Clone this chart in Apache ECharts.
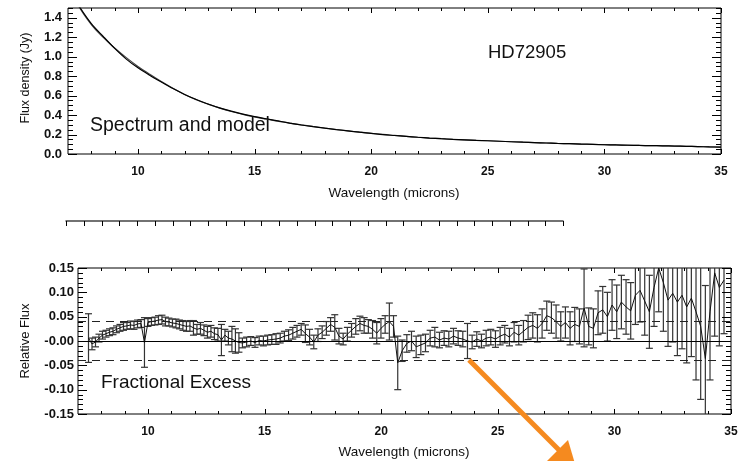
<!DOCTYPE html>
<html>
<head>
<meta charset="utf-8">
<script src="https://cdn.jsdelivr.net/npm/echarts@6/dist/echarts.min.js"></script>
<style>html,body{margin:0;padding:0;background:#fff}#c{width:746px;height:461px}</style>
</head>
<body>
<div id="c"></div>
<script>
// ---------- Top panel: spectrum and photospheric model (Jy) ----------
const wlTop = [7.3, 7.5, 8.0, 8.5, 9.0, 9.5, 10.0, 10.5, 11.0, 11.5, 12.0, 12.5, 13.0, 13.5, 14.0, 14.5, 15.0, 15.5, 16.0, 16.5, 17.0, 17.5, 18.0, 18.5, 19.0, 19.5, 20.0, 20.5, 21.0, 21.5, 22.0, 22.5, 23.0, 23.5, 24.0, 24.5, 25.0, 25.5, 26.0, 26.5, 27.0, 27.5, 28.0, 28.5, 29.0, 29.5, 30.0, 30.5, 31.0, 31.5, 32.0, 32.5, 33.0, 33.5, 34.0, 34.5, 35.0];
const modelFlux = [1.58, 1.50, 1.33, 1.20, 1.09, 0.99, 0.90, 0.82, 0.745, 0.675, 0.612, 0.558, 0.512, 0.472, 0.437, 0.407, 0.381, 0.358, 0.338, 0.318, 0.300, 0.283, 0.267, 0.252, 0.238, 0.225, 0.213, 0.201, 0.191, 0.181, 0.172, 0.164, 0.157, 0.151, 0.146, 0.141, 0.136, 0.131, 0.126, 0.122, 0.117, 0.113, 0.109, 0.106, 0.102, 0.099, 0.096, 0.093, 0.091, 0.088, 0.086, 0.084, 0.082, 0.079, 0.076, 0.073, 0.070];
const specFlux = [1.60, 1.51, 1.34, 1.21, 1.085, 0.975, 0.885, 0.81, 0.74, 0.672, 0.612, 0.56, 0.514, 0.474, 0.44, 0.41, 0.384, 0.362, 0.34, 0.318, 0.298, 0.281, 0.266, 0.251, 0.237, 0.224, 0.212, 0.199, 0.19, 0.181, 0.172, 0.164, 0.157, 0.151, 0.146, 0.14, 0.136, 0.131, 0.126, 0.121, 0.117, 0.113, 0.108, 0.106, 0.102, 0.099, 0.095, 0.093, 0.09, 0.088, 0.086, 0.084, 0.081, 0.079, 0.076, 0.073, 0.071];

// ---------- Bottom panel: fractional excess with errors ----------
const wlRel = [7.45,7.60,7.75,7.90,8.05,8.20,8.35,8.50,8.65,8.80,8.95,9.10,9.25,9.40,9.55,9.70,9.85,10.00,10.15,10.30,10.45,10.60,10.75,10.90,11.05,11.20,11.35,11.50,11.65,11.80,11.95,12.10,12.25,12.40,12.55,12.70,12.85,13.00,13.15,13.30,13.45,13.60,13.75,13.90,
  14.05,14.23,14.41,14.59,14.77,14.95,15.13,15.31,15.49,15.67,15.85,16.03,16.21,16.39,16.57,16.75,16.93,17.11,17.29,17.47,17.65,17.83,18.01,18.19,18.37,18.55,18.73,18.91,19.09,19.27,19.45,19.63,19.81,19.99,20.17,20.35,20.53,20.71,
  20.9,21.1,21.3,21.5,21.7,21.9,22.1,22.3,22.5,22.7,22.9,23.1,23.3,23.5,23.7,23.9,24.1,24.3,24.5,24.7,24.9,25.1,25.3,25.5,25.7,25.9,26.1,26.3,26.5,26.7,26.9,27.1,27.3,27.5,27.7,27.9,28.1,28.3,28.5,28.7,28.9,29.1,29.3,29.5,29.7,29.9,30.1,30.3,30.5,30.7,30.9,31.1,31.3,31.5,31.7,31.9,32.1,32.3,32.5,32.7,32.9,33.1,33.3,33.5,33.7,33.9,34.1,34.3,34.5,34.7];
const relFlux = [0.006,-0.006,-0.002,0.006,0.012,0.015,0.018,0.020,0.024,0.027,0.030,0.031,0.033,0.032,0.035,0.036,-0.003,0.038,0.040,0.041,0.043,0.044,0.040,0.039,0.037,0.036,0.034,0.032,0.030,0.031,0.027,0.024,0.026,0.022,0.018,0.020,0.015,0.013,0.002,0.012,0.006,0.004,0.000,-0.003,
  -0.004,-0.002,0.000,-0.003,0.001,0.000,0.002,0.003,0.004,0.006,0.010,0.012,0.016,0.020,0.024,0.015,0.008,-0.002,0.012,0.018,0.026,0.034,0.028,0.010,0.004,0.014,0.022,0.030,0.036,0.032,0.030,0.024,0.016,0.026,0.034,0.040,0.030,-0.045,
  -0.020,-0.005,0.000,-0.012,-0.008,-0.004,0.006,0.008,0.002,0.006,0.004,0.010,0.006,0.004,0.000,-0.002,0.004,0.000,0.006,0.008,0.004,0.010,0.014,0.008,0.018,0.012,0.020,0.028,0.032,0.026,0.036,0.052,0.048,0.040,0.030,0.038,0.026,0.034,0.030,0.068,0.030,0.026,0.058,0.064,0.050,0.074,0.060,0.080,0.070,0.062,0.094,0.104,0.082,0.060,0.110,0.150,0.120,0.084,0.098,0.080,0.094,0.070,0.088,0.060,0.030,-0.036,0.060,0.140,0.110,0.125];
const relErr = [0.050,0.012,0.010,0.008,0.008,0.007,0.007,0.007,0.007,0.007,0.008,0.007,0.008,0.008,0.008,0.008,0.051,0.008,0.008,0.008,0.009,0.009,0.009,0.008,0.008,0.009,0.009,0.010,0.010,0.011,0.015,0.010,0.012,0.011,0.012,0.012,0.012,0.013,0.032,0.012,0.014,0.026,0.025,0.020,
  0.010,0.010,0.009,0.010,0.009,0.010,0.010,0.010,0.011,0.010,0.010,0.011,0.012,0.012,0.012,0.018,0.016,0.014,0.013,0.013,0.014,0.014,0.026,0.016,0.012,0.014,0.014,0.016,0.015,0.016,0.014,0.018,0.022,0.020,0.018,0.038,0.022,0.055,
  0.022,0.018,0.020,0.022,0.020,0.018,0.016,0.020,0.016,0.015,0.016,0.016,0.015,0.016,0.036,0.014,0.015,0.014,0.016,0.016,0.017,0.018,0.018,0.018,0.020,0.020,0.022,0.025,0.026,0.028,0.030,0.030,0.032,0.034,0.030,0.032,0.034,0.035,0.036,0.080,0.038,0.040,0.045,0.048,0.050,0.052,0.055,0.055,0.056,0.058,0.060,0.065,0.070,0.075,0.080,0.090,0.100,0.095,0.100,0.110,0.110,0.115,0.120,0.140,0.150,0.150,0.140,0.130,0.120,0.110];
const zeroLevel = [0];
const excessLimits = [0.039, -0.04];

// ---------- Tick labels / tick positions ----------
const xMajor = [10, 15, 20, 25, 30, 35];
const xMinor = [8, 9, 11, 12, 13, 14, 16, 17, 18, 19, 21, 22, 23, 24, 26, 27, 28, 29, 31, 32, 33, 34];
const yTopMajor = [0, 0.2, 0.4, 0.6, 0.8, 1.0, 1.2, 1.4];
const yBotMajor = [-0.15, -0.10, -0.05, 0, 0.05, 0.10, 0.15];
const strayTicks = [0, 1, 2, 3, 4, 5, 6, 7, 8, 9, 10, 11, 12, 13, 14, 15, 16, 17, 18, 19, 20, 21, 22, 23, 24, 25, 26, 27, 28];

const FONT = "'Liberation Sans', Arial, Helvetica, sans-serif";
const yTopMinor = []; for (let i = 0; i <= 30; i++) { if (i % 4) yTopMinor.push(+(i * 0.05).toFixed(2)); }
const yBotMinor = []; for (let i = -15; i <= 15; i++) { if (i % 5) yBotMinor.push(+(i * 0.01).toFixed(2)); }

// tick rows: [value, axisKind (0=x,1=y), major (1/0), sides (0=both,1=top only)]
function tickRows(xMaj, xMin, yMaj, yMin) {
  return xMaj.map(v => [v, 0, 1, 0]).concat(xMin.map(v => [v, 0, 0, 0]))
    .concat(yMaj.map(v => [v, 1, 1, 0])).concat(yMin.map(v => [v, 1, 0, 0]));
}
function tickRender(params, api) {
  const cs = params.coordSys;
  const v = api.value(0), kind = api.value(1), major = api.value(2), sides = api.value(3);
  const st = {stroke: '#000', lineWidth: 1};
  const ch = [];
  if (kind === 0) {
    const px = Math.round(api.coord([v, 0])[0]) + 0.5;
    const len = major ? 5 : 3;
    if (sides === 0) ch.push({type: 'line', shape: {x1: px, y1: cs.y + cs.height, x2: px, y2: cs.y + cs.height - len}, style: st});
    ch.push({type: 'line', shape: {x1: px, y1: cs.y, x2: px, y2: cs.y + len}, style: st});
  } else {
    const py = Math.round(api.coord([0, v])[1]) + 0.5;
    const len = major ? 9 : 5;
    ch.push({type: 'line', shape: {x1: cs.x, y1: py, x2: cs.x + len, y2: py}, style: st});
    ch.push({type: 'line', shape: {x1: cs.x + cs.width, y1: py, x2: cs.x + cs.width - len, y2: py}, style: st});
  }
  return {type: 'group', children: ch};
}

function xAxisCfg(g) {
  return {gridIndex: g, type: 'value', min: 7, max: 35, position: 'bottom',
    axisLine: {show: false, onZero: false}, axisTick: {show: false}, splitLine: {show: false},
    axisLabel: {show: true, customValues: xMajor, fontFamily: FONT, fontWeight: 'bold', fontSize: 12, color: '#111', margin: 12}};
}
function yAxisCfg(g, min, max, major, fmt, margin) {
  return {gridIndex: g, type: 'value', min: min, max: max, position: 'left',
    axisLine: {show: false, onZero: false}, axisTick: {show: false}, splitLine: {show: false},
    axisLabel: {show: true, customValues: major, formatter: fmt, fontFamily: FONT, fontWeight: 'bold', fontSize: 13, color: '#111', margin: margin}};
}

const errData = wlRel.map((w, i) => [w, relFlux[i], relErr[i]]);

const chart = echarts.init(document.getElementById('c'), null, {renderer: 'canvas'});
chart.setOption({
  animation: false,
  backgroundColor: '#fff',
  grid: [
    {left: 68, top: 8, width: 653, height: 146, show: true, borderColor: '#000', borderWidth: 1, backgroundColor: 'transparent'},
    {left: 78, top: 268, width: 653, height: 146, show: true, borderColor: '#000', borderWidth: 1, backgroundColor: 'transparent'},
    {left: 66, top: 221, width: 497, height: 20}
  ],
  xAxis: [xAxisCfg(0), xAxisCfg(1), {
    gridIndex: 2, type: 'value', min: 0, max: 28, position: 'top',
    axisLine: {show: true, onZero: false, lineStyle: {color: '#444', width: 1.5}},
    axisTick: {show: false}, axisLabel: {show: false}, splitLine: {show: false}
  }],
  yAxis: [
    yAxisCfg(0, 0, 1.5, yTopMajor, v => v.toFixed(1), 6),
    yAxisCfg(1, -0.15, 0.15, yBotMajor, v => (v === 0 ? '-0.00' : v.toFixed(2)), 4),
    {gridIndex: 2, type: 'value', show: false, min: 0, max: 1}
  ],
  series: [
    {type: 'line', xAxisIndex: 0, yAxisIndex: 0, data: wlTop.map((w, i) => [w, modelFlux[i]]), smooth: true, showSymbol: false, clip: true,
      lineStyle: {color: '#444', width: 1.2}},
    {type: 'line', xAxisIndex: 0, yAxisIndex: 0, data: wlTop.map((w, i) => [w, specFlux[i]]), smooth: 0.3, showSymbol: false, clip: true,
      lineStyle: {color: '#000', width: 1.2}},
    {type: 'line', xAxisIndex: 1, yAxisIndex: 1, data: [], silent: true,
      markLine: {silent: true, symbol: 'none', label: {show: false},
        data: excessLimits.map(v => ({yAxis: v, lineStyle: {type: [8, 6], color: '#222', width: 1.2}}))
          .concat(zeroLevel.map(v => ({yAxis: v, lineStyle: {type: 'solid', color: '#000', width: 1.2}})))}},
    {type: 'custom', xAxisIndex: 1, yAxisIndex: 1, data: errData, clip: true,
      renderItem: function (params, api) {
        const x = api.value(0), y = api.value(1), e = api.value(2);
        const hi = api.coord([x, y + e]), lo = api.coord([x, y - e]);
        const w = 3.5;
        const st = {stroke: '#333', lineWidth: 1.2};
        return {type: 'group', children: [
          {type: 'line', shape: {x1: hi[0], y1: hi[1], x2: lo[0], y2: lo[1]}, style: st},
          {type: 'line', shape: {x1: hi[0] - w, y1: hi[1], x2: hi[0] + w, y2: hi[1]}, style: st},
          {type: 'line', shape: {x1: lo[0] - w, y1: lo[1], x2: lo[0] + w, y2: lo[1]}, style: st}
        ]};
      }},
    {type: 'line', xAxisIndex: 1, yAxisIndex: 1, data: wlRel.map((w, i) => [w, relFlux[i]]), showSymbol: false, clip: true,
      lineStyle: {color: '#111', width: 1}},
    {type: 'custom', xAxisIndex: 0, yAxisIndex: 0, clip: false, silent: true, renderItem: tickRender,
      data: tickRows(xMajor, xMinor, yTopMajor, yTopMinor)},
    {type: 'custom', xAxisIndex: 1, yAxisIndex: 1, clip: false, silent: true, renderItem: tickRender,
      data: tickRows(xMajor, xMinor, yBotMajor, yBotMinor)},
    {type: 'custom', xAxisIndex: 2, yAxisIndex: 2, clip: false, silent: true, renderItem: tickRender,
      data: strayTicks.map(v => [v, 0, 1, 1])}
  ],
  graphic: [
    {type: 'text', left: 488, top: 43, style: {text: 'HD72905', font: '18.5px ' + FONT, fill: '#111'}},
    {type: 'text', left: 90, top: 116, style: {text: 'Spectrum and model', font: '19.5px ' + FONT, fill: '#111'}},
    {type: 'text', left: 101, top: 373, style: {text: 'Fractional Excess', font: '19px ' + FONT, fill: '#111'}},
    {type: 'text', x: 394, y: 193, style: {text: 'Wavelength (microns)', font: '13.5px ' + FONT, fill: '#111', align: 'center', verticalAlign: 'middle'}},
    {type: 'text', x: 404, y: 452, style: {text: 'Wavelength (microns)', font: '13.5px ' + FONT, fill: '#111', align: 'center', verticalAlign: 'middle'}},
    {type: 'text', x: 26, y: 78, rotation: Math.PI / 2, style: {text: 'Flux density (Jy)', font: '12.5px ' + FONT, fill: '#111', align: 'center', verticalAlign: 'middle'}},
    {type: 'text', x: 25, y: 341, rotation: Math.PI / 2, style: {text: 'Relative Flux', font: '13px ' + FONT, fill: '#111', align: 'center', verticalAlign: 'middle'}},
    {type: 'line', z: 100, shape: {x1: 469, y1: 360, x2: 562, y2: 453}, style: {stroke: '#F58A1F', lineWidth: 5}},
    {type: 'polygon', z: 100, shape: {points: [[578, 474], [544, 464], [568, 440]]}, style: {fill: '#F58A1F'}}
  ]
});
</script>
</body>
</html>
